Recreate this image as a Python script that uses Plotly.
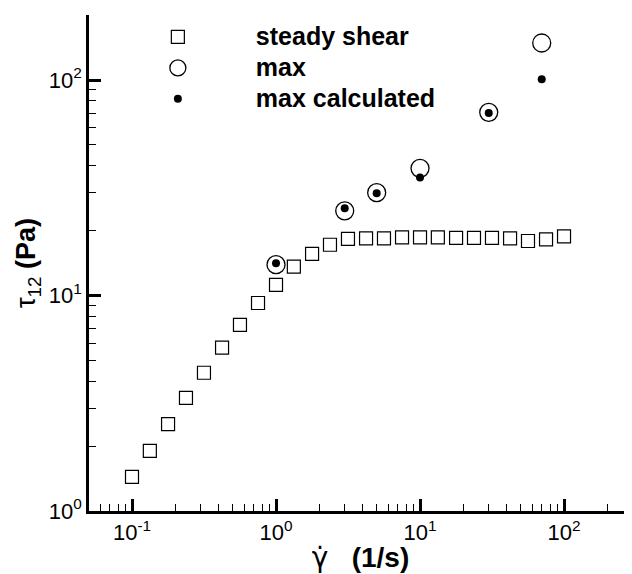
import plotly.graph_objects as go

# steady shear data
shear_rate = [0.1, 0.133, 0.178, 0.237, 0.316, 0.422, 0.562, 0.75, 1.0,
              1.33, 1.78, 2.37, 3.16, 4.22, 5.62, 7.5, 10.0,
              13.3, 17.8, 23.7, 31.6, 42.2, 56.2, 75.0, 100.0]
steady_stress = [1.44, 1.90, 2.53, 3.35, 4.38, 5.73, 7.3, 9.23, 11.2,
                 13.6, 15.6, 17.2, 18.3, 18.4, 18.4, 18.6, 18.6,
                 18.6, 18.5, 18.5, 18.5, 18.4, 17.9, 18.2, 18.8]

# maximum stress (measured and calculated)
max_rate = [1.0, 3.0, 5.0, 10.0, 30.0, 70.0]
max_stress = [13.9, 24.7, 30.0, 38.9, 70.8, 148.5]
calc_stress = [14.1, 25.4, 29.8, 35.3, 70.3, 100.7]

series_names = ["steady shear", "max", "max calculated"]

x_major = [0.1, 1, 10, 100]
x_major_text = ["10<sup>-1</sup>", "10<sup>0</sup>", "10<sup>1</sup>", "10<sup>2</sup>"]
y_major = [1, 10, 100]
y_major_text = ["10<sup>0</sup>", "10<sup>1</sup>", "10<sup>2</sup>"]

x_minor = [m * 10.0 ** e for e in range(-2, 3) for m in range(2, 10)]
y_minor = [m * 10.0 ** e for e in range(0, 3) for m in range(2, 10)]

FONT = "Arial, Liberation Sans, sans-serif"


def legend_label(s):
    return "<span style='font-size:25px'>" + s + "</span>"


fig = go.Figure()
fig.add_trace(go.Scatter(
    x=shear_rate, y=steady_stress, mode="markers", name=legend_label(series_names[0]),
    marker=dict(symbol="square-open", size=13, color="black", line=dict(width=1.2, color="black")),
))
fig.add_trace(go.Scatter(
    x=max_rate, y=max_stress, mode="markers", name=legend_label(series_names[1]),
    marker=dict(symbol="circle-open", size=18, color="black", line=dict(width=1.3, color="black")),
))
fig.add_trace(go.Scatter(
    x=max_rate, y=calc_stress, mode="markers", name=legend_label(series_names[2]),
    marker=dict(symbol="circle", size=8, color="black", line=dict(width=0)),
))

axis_common = dict(
    showgrid=False, zeroline=False, showline=True, linecolor="black", linewidth=2.5,
    ticks="inside", ticklen=12, tickwidth=2.5, tickcolor="black",
    tickfont=dict(family=FONT, size=22, color="black"),
    tickmode="array",
)

x_title = ("\u00a0\u00a0\u00a0\u00a0<span style='font-family:DejaVu Sans'>\u03b3\u0307</span>"
           "\u00a0\u00a0\u00a0<b>(1/s)</b>")

fig.update_xaxes(
    type="log", range=[-1.2986, 2.472],
    tickvals=x_major, ticktext=x_major_text,
    minor=dict(ticks="inside", ticklen=7, tickwidth=1.2, tickcolor="black", tickvals=x_minor),
    title=dict(text=x_title, font=dict(family=FONT, size=28, color="black"), standoff=2),
    **axis_common,
)
fig.update_yaxes(
    type="log", range=[0, 2.3016],
    tickvals=y_major, ticktext=y_major_text,
    minor=dict(ticks="inside", ticklen=7, tickwidth=1.2, tickcolor="black", tickvals=y_minor),
    title=dict(text="\u03c4<sub>12</sub> <b>(Pa)</b>", font=dict(family=FONT, size=27, color="black"), standoff=6),
    **axis_common,
)

# page body has an 8px margin: figure is placed at (8, 8) in the window
fig.update_layout(
    width=624, height=566,
    margin=dict(l=81, r=0, t=7, b=63),
    paper_bgcolor="white", plot_bgcolor="white",
    showlegend=True,
    legend=dict(
        x=0.02, y=0.997, xanchor="left", yanchor="top",
        bgcolor="rgba(0,0,0,0)", borderwidth=0,
        font=dict(family=FONT, size=21.5, color="black", weight="bold"),
        itemwidth=146, tracegroupgap=0,
    ),
)

fig.write_html("out.html")
